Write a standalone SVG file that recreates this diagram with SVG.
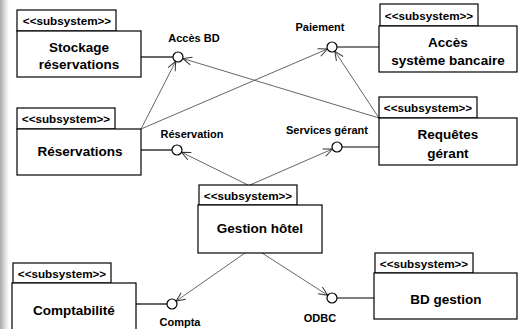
<svg xmlns="http://www.w3.org/2000/svg" width="520" height="329" viewBox="0 0 520 329">
<style>
.box{fill:#fff;stroke:#000;stroke-width:1.2}
.st{font-family:"Liberation Sans",Arial,sans-serif;font-weight:bold;font-size:11.7px;fill:#000;text-anchor:middle}
.tt{font-family:"Liberation Sans",Arial,sans-serif;font-weight:bold;font-size:13.5px;fill:#000;text-anchor:middle}
.lb{font-family:"Liberation Sans",Arial,sans-serif;font-weight:bold;font-size:11px;fill:#000;text-anchor:middle}
.lol{fill:#fff;stroke:#000;stroke-width:1.2}
.stem{stroke:#000;stroke-width:1.2;fill:none}
.dep{stroke:#555;stroke-width:0.9;fill:none;marker-end:url(#arr)}
</style>
<defs>
<linearGradient id="edge" x1="0" y1="0" x2="1" y2="0">
<stop offset="0" stop-color="#a8a8a8"/>
<stop offset="0.5" stop-color="#d8d8d8"/>
<stop offset="1" stop-color="#ffffff"/>
</linearGradient>
<marker id="arr" markerWidth="12" markerHeight="12" refX="0" refY="0" viewBox="-11 -6 12 12" orient="auto" markerUnits="userSpaceOnUse">
<path d="M-9,-4 L0,0 L-9,4" fill="none" stroke="#333" stroke-width="1"/>
</marker>
</defs>
<rect width="520" height="329" fill="#fff"/>
<rect x="0" y="0" width="9" height="329" fill="url(#edge)"/>

<g id="connectors">
<line class="dep" x1="141" y1="129" x2="175.7" y2="61.4"/>
<line class="dep" x1="141" y1="129" x2="327.4" y2="49"/>
<line class="dep" x1="379" y1="118" x2="182.8" y2="58.5"/>
<line class="dep" x1="379" y1="118" x2="334.8" y2="51.2"/>
<line class="dep" x1="248" y1="185" x2="181.5" y2="152.2"/>
<line class="dep" x1="250" y1="185" x2="332.4" y2="149"/>
<line class="dep" x1="245" y1="253" x2="176.1" y2="301.1"/>
<line class="dep" x1="262" y1="253" x2="327.8" y2="295.3"/>
</g>

<g id="stockage">
<rect class="box" x="17" y="10" width="99" height="21"/>
<text class="st" x="67" y="25">&lt;&lt;subsystem&gt;&gt;</text>
<rect class="box" x="17" y="31" width="124" height="46"/>
<text class="tt" x="79" y="52">Stockage</text>
<text class="tt" x="79" y="69">réservations</text>
</g>

<g id="acces-bd">
<line class="stem" x1="141" y1="57" x2="173" y2="57"/>
<circle class="lol" cx="178" cy="57" r="5"/>
<text class="lb" x="194" y="42">Accès BD</text>
</g>

<g id="acces-bancaire">
<rect class="box" x="380" y="4" width="98" height="22"/>
<text class="st" x="429" y="19.5">&lt;&lt;subsystem&gt;&gt;</text>
<rect class="box" x="379" y="26" width="138" height="46"/>
<text class="tt" x="448" y="47">Accès</text>
<text class="tt" x="448" y="65">système bancaire</text>
</g>

<g id="paiement">
<line class="stem" x1="337" y1="47" x2="379" y2="47"/>
<circle class="lol" cx="332" cy="47" r="5"/>
<text class="lb" x="320" y="31">Paiement</text>
</g>

<g id="reservations">
<rect class="box" x="17" y="108" width="98" height="21"/>
<text class="st" x="66" y="123">&lt;&lt;subsystem&gt;&gt;</text>
<rect class="box" x="17" y="129" width="124" height="46"/>
<text class="tt" x="80" y="156">Réservations</text>
</g>

<g id="reservation">
<line class="stem" x1="141" y1="150" x2="172" y2="150"/>
<circle class="lol" cx="177" cy="150" r="5"/>
<text class="lb" x="192" y="138">Réservation</text>
</g>

<g id="requetes">
<rect class="box" x="379" y="97" width="98" height="21"/>
<text class="st" x="428" y="112">&lt;&lt;subsystem&gt;&gt;</text>
<rect class="box" x="379" y="118" width="138" height="47"/>
<text class="tt" x="448" y="139">Requêtes</text>
<text class="tt" x="448" y="158">gérant</text>
</g>

<g id="services-gerant">
<line class="stem" x1="342" y1="147" x2="379" y2="147"/>
<circle class="lol" cx="337" cy="147" r="5"/>
<text class="lb" x="327" y="134">Services gérant</text>
</g>

<g id="gestion-hotel">
<rect class="box" x="199" y="185" width="98" height="20"/>
<text class="st" x="248" y="199.5">&lt;&lt;subsystem&gt;&gt;</text>
<rect class="box" x="198" y="205" width="124" height="48"/>
<text class="tt" x="260" y="233">Gestion hôtel</text>
</g>

<g id="comptabilite">
<rect class="box" x="13" y="263" width="98" height="20"/>
<text class="st" x="62" y="277.5">&lt;&lt;subsystem&gt;&gt;</text>
<rect class="box" x="12" y="283" width="124" height="50"/>
<text class="tt" x="74" y="315">Comptabilité</text>
</g>

<g id="compta">
<line class="stem" x1="136" y1="304" x2="167" y2="304"/>
<circle class="lol" cx="172" cy="304" r="5"/>
<text class="lb" x="180" y="326">Compta</text>
</g>

<g id="bd-gestion">
<rect class="box" x="375" y="253" width="98" height="20"/>
<text class="st" x="424" y="267.5">&lt;&lt;subsystem&gt;&gt;</text>
<rect class="box" x="374" y="273" width="143" height="46"/>
<text class="tt" x="446" y="304">BD gestion</text>
</g>

<g id="odbc">
<line class="stem" x1="337" y1="298" x2="374" y2="298"/>
<circle class="lol" cx="332" cy="298" r="5"/>
<text class="lb" x="320" y="322">ODBC</text>
</g>
</svg>
